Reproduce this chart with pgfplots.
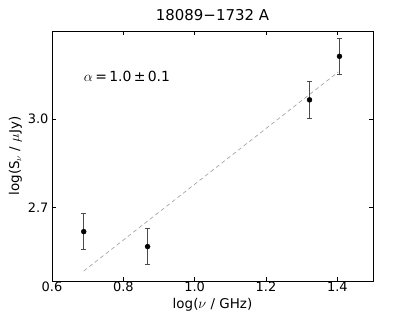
\documentclass[border=0pt]{standalone}
\usepackage{pgfplots}
\pgfplotsset{compat=1.18}
\usepackage{fontspec}
\setmainfont{DejaVu Sans}
\begin{document}
\begin{tikzpicture}[x=1bp,y=1bp]
\path (0,0) rectangle (415,312);
\begin{axis}[
  at={(52bp,31bp)}, anchor=south west,
  scale only axis, width=321bp, height=250bp,
  xmin=0.6, xmax=1.5, ymin=2.45, ymax=3.3,
  xtick={0.6,0.8,1.0,1.2,1.4},
  ytick={2.7,3.0},
  xticklabel style={/pgf/number format/fixed,/pgf/number format/fixed zerofill,/pgf/number format/precision=1, inner sep=1bp, yshift=0bp},
  yticklabel style={/pgf/number format/fixed,/pgf/number format/fixed zerofill,/pgf/number format/precision=1},
  /pgf/number format/assume math mode=true,
  tick align=inside, xtick pos=both, ytick pos=both,
  major tick length=4bp,
  tick style={black, line width=0.5pt},
  axis line style={black, line width=0.6pt},
  ticklabel style={font=\fontsize{13}{15}\selectfont},
  label style={font=\fontsize{13.5}{16}\selectfont},
  title style={font=\fontsize{15}{17}\selectfont, yshift=1bp},
  title={18089−1732 A},
  xlabel={log($\nu$ / GHz)},
  ylabel={log(S$_\nu$ / $\mu$Jy)},
  xlabel style={at={(axis description cs:0.5,0)}, anchor=base, yshift=-27bp, inner sep=0pt},
  ylabel style={yshift=-1bp},
  clip=false,
]
\addplot[gray!70, dashed, line width=0.7pt, dash pattern=on 4bp off 3bp] coordinates {(0.689,2.484) (1.403,3.161)};
\addplot[black, only marks, mark=*, mark size=2.5pt,
  error bars/.cd, y dir=both, y explicit,
  error bar style={black!70, line width=0.8pt},
  error mark options={black!70, line width=0.8pt, mark size=2.3pt, rotate=90}]
  coordinates {
  (0.689,2.618) +- (0,0.061)
  (0.868,2.567) +- (0,0.062)
  (1.322,3.066) +- (0,0.062)
  (1.406,3.214) +- (0,0.062)
};
\node[anchor=west, font=\fontsize{14}{16}\selectfont, inner sep=0pt] at (axis cs:0.689,3.144) {$\alpha$\,=\,1.0\,±\,0.1};
\end{axis}
\end{tikzpicture}
\end{document}
